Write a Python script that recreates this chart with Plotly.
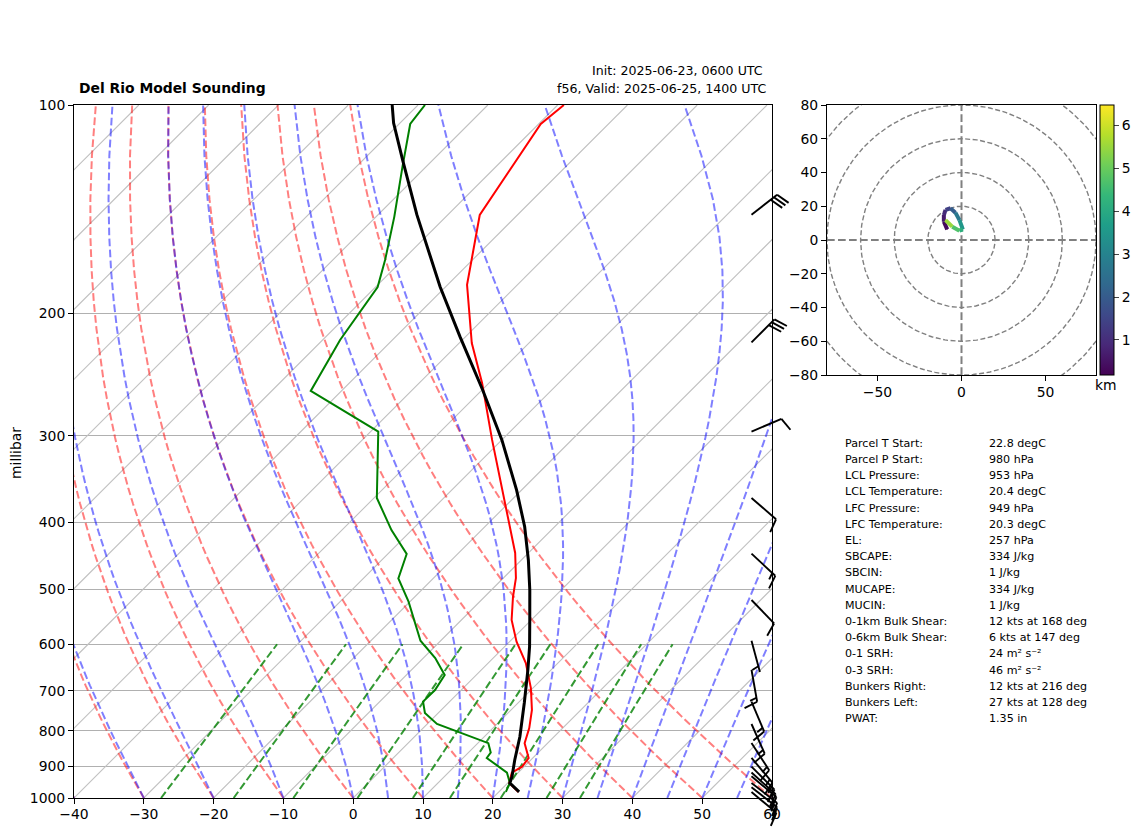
import numpy as np
import plotly.colors
import plotly.graph_objects as go

# sounding: pressure (hPa), temperature / dewpoint (degC)
temp_p = [100, 106.5, 144.1, 152.4, 181.8, 220.5, 251.8, 304.3, 375.2, 410.6, 443, 481.5, 512.9, 553.6,
          594.8, 638.7, 693.9, 746.5, 792.6, 833.4, 875.4, 901, 919.3, 951.4, 980]
temp_c = [-69.1, -69.7, -65.4, -63.4, -57.2, -48.2, -41.0, -31.4, -20.5, -15.9, -11.9, -8.2, -5.9, -2.8,
          1.0, 5.4, 9.7, 13.0, 15.2, 16.7, 19.4, 19.7, 19.1, 20.2, 22.8]
dew_p = [100, 106.5, 122.7, 144.9, 167.4, 183.1, 218.3, 258.6, 296, 369, 410.6, 444.5, 482, 520.8,
         592.9, 628.1, 664.7, 698.5, 726, 754, 782, 833.4, 860, 875.4, 919.3, 951.4, 980]
dew_c = [-89, -88.4, -83.4, -77.4, -72.5, -69.7, -67.5, -64.4, -48.9, -39.6, -32.9, -27.3, -25, -20.2,
         -12.9, -8.3, -4.5, -3.75, -3.8, -1.9, 1.4, 11.5, 13.2, 13.4, 18.4, 20.3, 21.0]
parcel_p = [100, 106.2, 120.1, 144.1, 182.9, 215.9, 257.8, 304.3, 359.5, 406, 453.5, 501, 553.6, 605,
            653.8, 729.3, 815.8, 881.4, 931.7, 951.4, 980]
parcel_c = [-93.7, -90.9, -84.3, -74.4, -60.8, -50.8, -39.9, -30, -20.7, -14.3, -9, -4.5, -0.2, 3.6,
            6.7, 10.9, 15.1, 17.7, 19.7, 20.3, 22.9]

# wind barbs: pressure (hPa), speed (kts), direction (deg)
barb_p = [144, 220, 296, 369, 444, 518, 593, 653, 726, 782, 833, 875, 901, 919, 930, 951, 965, 980]
barb_spd = [30, 30, 10, 10, 15, 10, 5, 15, 15, 15, 15, 15, 15, 15, 10, 15, 15, 10]
barb_dir = [52, 45, 67, 131, 133, 136, 165, 170, 157, 156, 147, 140, 135, 132, 130, 128, 128, 130]

# hodograph, kts and km
hodo_u = [-8.5, -10.5, -10.5, -9.5, -6.5, -3.6, -1.2, 0.8, -1.2, -5.5, -9.5]
hodo_v = [6.3, 10.8, 14.8, 17.8, 18.8, 16.2, 11.8, 6.3, 5.5, 7.9, 11.8]
hodo_km = [0.2, 0.5, 0.8, 1.1, 1.7, 2.4, 3.1, 3.9, 4.4, 5.0, 6.0]

stat_names = ['Parcel T Start:', 'Parcel P Start:', 'LCL Pressure:', 'LCL Temperature:', 'LFC Pressure:',
              'LFC Temperature:', 'EL:', 'SBCAPE:', 'SBCIN:', 'MUCAPE:', 'MUCIN:', '0-1km Bulk Shear:',
              '0-6km Bulk Shear:', '0-1 SRH:', '0-3 SRH:', 'Bunkers Right:', 'Bunkers Left:', 'PWAT:']
stat_values = ['22.8 degC', '980 hPa', '953 hPa', '20.4 degC', '949 hPa', '20.3 degC', '257 hPa', '334 J/kg',
               '1 J/kg', '334 J/kg', '1 J/kg', '12 kts at 168 deg', '6 kts at 147 deg', '24 m² s⁻²',
               '46 m² s⁻²', '12 kts at 216 deg', '27 kts at 128 deg', '1.35 in']

pressure_ticks = [100, 200, 300, 400, 500, 600, 700, 800, 900, 1000]
temp_ticks = list(range(-40, 61, 10))
dry_t0 = list(range(-40, 61, 10))
moist_t0 = [-40, -30, -20, -10, 0, 5, 10, 15, 20, 25, 30, 35, 40, 45, 50, 55, 60]
mixing_ratios = [0.0004, 0.001, 0.002, 0.004, 0.007, 0.01, 0.016, 0.024, 0.032]
hodo_rings = [20, 40, 60, 80, 100]

W, H = 1142, 836
LEFT, RIGHT, TOP, BOTTOM = 74, 772, 105, 798
PX_PER_DEG = (RIGHT - LEFT) / 100
PX_PER_DECADE = BOTTOM - TOP
SKEW = PX_PER_DECADE / PX_PER_DEG  # 45 degree isotherms
KAPPA = 0.2835  # fitted to where the reference's adiabats run
FONT = 'DejaVu Sans'


def skew_x(t_c, p):
    return np.asarray(t_c, dtype=float) + SKEW * np.log10(1000 / np.asarray(p, dtype=float))


def sat_mixing(t_k, p):
    es = 6.112 * np.exp(17.67 * (t_k - 273.15) / (t_k - 29.65))
    return 0.622 * es / np.maximum(p - es, 1e-3)


def moist_slope(t_k, p):
    lv, rd = 2.501e6, 287.05
    cp = rd / KAPPA
    rs = sat_mixing(t_k, p)
    return (rd * t_k + lv * rs) / (p * (cp + lv * lv * rs * 0.622 / (rd * t_k * t_k)))


def moist_adiabat(t0, pres):
    out = [t0 + 273.15]
    for p0, p1 in zip(pres[:-1], pres[1:]):
        h = p1 - p0
        t = out[-1]
        k1 = moist_slope(t, p0)
        k2 = moist_slope(t + h * k1 / 2, p0 + h / 2)
        k3 = moist_slope(t + h * k2 / 2, p0 + h / 2)
        k4 = moist_slope(t + h * k3, p1)
        out.append(t + h * (k1 + 2 * k2 + 2 * k3 + k4) / 6)
    return np.array(out) - 273.15


def barb_lines():
    # staff and feathers in screen pixels around each level, matplotlib's barb proportions
    length, full_h, full_w, spacing = 32.5, 13.5, 8.1, 4.06
    xs, ys = [], []
    xloc = 751.5

    def add(p, pts):
        for dx, dy in pts:
            xs.append(xloc + dx)
            ys.append(p * 10 ** (-dy / PX_PER_DECADE))
        xs.append(None)
        ys.append(None)

    for p, spd, wdir in zip(barb_p, barb_spd, barb_dir):
        rad = np.radians(wdir)
        sx, sy = np.sin(rad), np.cos(rad)
        nx, ny = sy, -sx
        add(p, [(0, 0), (sx * length, sy * length)])
        n_full = int(spd // 10)
        half = (spd % 10) >= 5
        off = length
        for _ in range(n_full):
            add(p, [(sx * off, sy * off),
                    (sx * (off + full_w / 2) + nx * full_h, sy * (off + full_w / 2) + ny * full_h)])
            off -= spacing
        if half:
            if n_full == 0:
                off -= 1.5 * spacing
            add(p, [(sx * off, sy * off),
                    (sx * (off + full_w / 4) + nx * full_h / 2, sy * (off + full_w / 4) + ny * full_h / 2)])
    return xs, ys


fig = go.Figure()

# ------------------ skew-T background ------------------
for t in range(-140, 61, 10):
    fig.add_trace(go.Scatter(x=skew_x([t, t], [1000, 100]), y=[1000, 100], mode='lines',
                             line=dict(color='#c0c0c0', width=1.1)))

pres = np.linspace(1000, 100, 50)
for t0 in dry_t0:
    dry = (t0 + 273.15) * (pres / 1000) ** KAPPA - 273.15
    fig.add_trace(go.Scatter(x=skew_x(dry, pres), y=pres, mode='lines',
                             line=dict(color='rgba(255,0,0,0.5)', width=2, dash='7.7px,3.3px')))
for t0 in moist_t0:
    fig.add_trace(go.Scatter(x=skew_x(moist_adiabat(t0, pres), pres), y=pres, mode='lines',
                             line=dict(color='rgba(0,0,255,0.5)', width=2, dash='7.7px,3.3px')))
mix_p = np.linspace(1000, 600, 30)
for w in mixing_ratios:
    ln_e = np.log(mix_p * w / (0.622 + w) / 6.112)
    td = 243.5 * ln_e / (17.67 - ln_e)
    fig.add_trace(go.Scatter(x=skew_x(td, mix_p), y=mix_p, mode='lines',
                             line=dict(color='rgba(0,128,0,0.8)', width=2, dash='7.7px,3.3px')))

# ------------------ sounding ------------------
fig.add_trace(go.Scatter(x=skew_x(temp_c, temp_p), y=temp_p, mode='lines', line=dict(color='red', width=2)))
fig.add_trace(go.Scatter(x=skew_x(dew_c, dew_p), y=dew_p, mode='lines', line=dict(color='green', width=2)))
fig.add_trace(go.Scatter(x=skew_x(parcel_c, parcel_p), y=parcel_p, mode='lines', line=dict(color='black', width=3)))

# ------------------ hodograph ------------------
theta = np.linspace(0, 2 * np.pi, 200)
for r in hodo_rings:
    fig.add_trace(go.Scatter(x=r * np.cos(theta), y=r * np.sin(theta), mode='lines', xaxis='x2', yaxis='y2',
                             line=dict(color='#808080', width=1.4, dash='5px,2.5px')))
fig.add_trace(go.Scatter(x=[-80, 80], y=[0, 0], mode='lines', xaxis='x2', yaxis='y2',
                         line=dict(color='#808080', width=2, dash='7.7px,3.3px')))
fig.add_trace(go.Scatter(x=[0, 0], y=[-80, 80], mode='lines', xaxis='x2', yaxis='y2',
                         line=dict(color='#808080', width=2, dash='7.7px,3.3px')))

KM_MIN, KM_MAX = 0.18, 6.48
for i in range(len(hodo_km) - 1):
    mid = (hodo_km[i] + hodo_km[i + 1]) / 2
    colour = plotly.colors.sample_colorscale('Viridis', (mid - KM_MIN) / (KM_MAX - KM_MIN))[0]
    fig.add_trace(go.Scatter(x=hodo_u[i:i + 2], y=hodo_v[i:i + 2], mode='lines', xaxis='x2', yaxis='y2',
                             line=dict(color=colour, width=4)))
# carries the colour bar
fig.add_trace(go.Scatter(x=hodo_u, y=hodo_v, mode='markers', xaxis='x2', yaxis='y2',
                         marker=dict(size=1, color=hodo_km, colorscale='Viridis', cmin=KM_MIN, cmax=KM_MAX,
                                     colorbar=dict(x=1100 / W, xanchor='left', xpad=0, ypad=0, thickness=14,
                                                   lenmode='pixels', len=375 - 105, y=1 - 375 / H, yanchor='bottom',
                                                   tickvals=[1, 2, 3, 4, 5, 6], ticks='outside', ticklen=5,
                                                   tickfont=dict(family=FONT, size=13.9, color='black'),
                                                   outlinecolor='black', outlinewidth=1))))

# ------------------ barbs, on a full-page axis pair with the same log scale ------------------
bx, by = barb_lines()
fig.add_trace(go.Scatter(x=bx, y=by, mode='lines', xaxis='x3', yaxis='y3', connectgaps=False,
                         line=dict(color='black', width=1.9)))

fig.update_traces(showlegend=False, hoverinfo='skip')

axis_style = dict(showline=True, linecolor='black', linewidth=1, mirror=True, ticks='outside', ticklen=5,
                  tickcolor='black', zeroline=False, tickfont=dict(family=FONT, size=13.9, color='black'))
fig.update_layout(
    width=W, height=H, margin=dict(l=0, r=0, t=0, b=0, autoexpand=False), paper_bgcolor='white',
    plot_bgcolor='rgba(0,0,0,0)',
    xaxis=dict(domain=[LEFT / W, RIGHT / W], range=[-40, 60], tickvals=temp_ticks, showgrid=False, anchor='y',
               ticklabelstandoff=-2, **axis_style),
    yaxis=dict(domain=[1 - BOTTOM / H, 1 - TOP / H], type='log', range=[3, 2], tickvals=pressure_ticks,
               ticktext=[str(p) for p in pressure_ticks], showgrid=True, gridcolor='#b0b0b0', gridwidth=1,
               anchor='x', **axis_style),
    xaxis2=dict(domain=[827 / W, 1096 / W], range=[-80, 80], tickvals=[-50, 0, 50], showgrid=False, anchor='y2',
                ticklabelstandoff=-1, **axis_style),
    yaxis2=dict(domain=[1 - 375 / H, 1 - 105 / H], range=[-80, 80], tickvals=list(range(-80, 81, 20)),
                showgrid=False, anchor='x2', **axis_style),
    xaxis3=dict(domain=[0, 1], range=[0, W], visible=False, anchor='y3'),
    yaxis3=dict(domain=[0, 1], type='log', range=[3 + (H - BOTTOM) / PX_PER_DECADE, 3 - BOTTOM / PX_PER_DECADE],
                visible=False, anchor='x3'),
)


def label(x, y, text, size, anchor='left', **kw):
    fig.add_annotation(x=x / W, y=1 - y / H, xref='paper', yref='paper', text=text, showarrow=False,
                       xanchor=anchor, yanchor='middle', font=dict(family=FONT, size=size, color='black'), **kw)


label(77, 88, '<b>Del Rio Model Sounding</b>', 13.9)
label(765, 70, 'Init: 2025-06-23, 0600 UTC', 12.6, anchor='right')
label(768, 88, 'f56, Valid: 2025-06-25, 1400 UTC', 12.6, anchor='right')
label(16, 453, 'millibar', 13.9, anchor='center', textangle=-90)
label(1106, 385, 'km', 13.9, anchor='center')
for i, (name, value) in enumerate(zip(stat_names, stat_values)):
    y = 443.3 + i * 16.2
    label(843, y, name, 11.1)
    label(987, y, value, 11.1)

fig.write_html("out.html", config=dict(displayModeBar=False), post_script="document.body.style.margin='0';")
